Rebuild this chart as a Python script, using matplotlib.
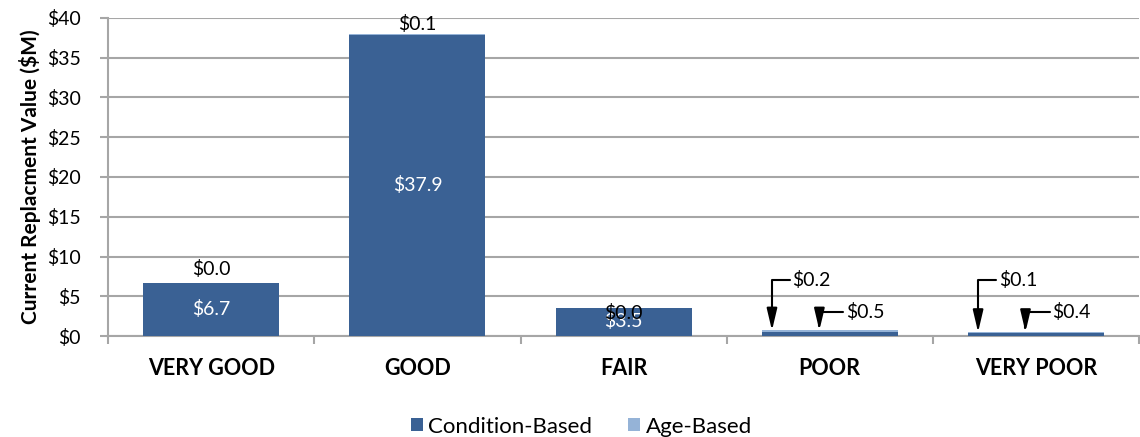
import matplotlib.pyplot as plt
import numpy as np

# Current replacement value by condition rating ($M)
categories = ['VERY GOOD', 'GOOD', 'FAIR', 'POOR', 'VERY POOR']
condition_based = [6.7, 37.9, 3.5, 0.5, 0.4]
age_based = [0.0, 0.1, 0.0, 0.2, 0.1]

dark_blue = '#3a6194'
light_blue = '#95b3d7'
grid_gray = '#a6a6a6'

plt.rcParams['font.family'] = ['Lato', 'DejaVu Sans']

fig = plt.figure(figsize=(11.4, 4.37), dpi=100)
ax = fig.add_axes([0.095, 0.231, 0.904, 0.728])

x = np.arange(len(categories))
w = 0.66
bars_c = ax.bar(x, condition_based, w, color=dark_blue, label='Condition-Based', zorder=3)
bars_a = ax.bar(x, age_based, w, bottom=condition_based, color=light_blue,
                label='Age-Based', zorder=3)

ax.set_xlim(-0.5, len(categories) - 0.5)
ax.set_ylim(0, 40)
ax.set_yticks(range(0, 41, 5))
ax.set_yticklabels(['$%d' % v for v in range(0, 41, 5)], fontsize=14)
ax.set_xticks(x)
ax.set_xticklabels(categories, fontsize=15.5, fontweight='bold')
ax.set_xticks(np.arange(-0.5, len(categories)), minor=True)
ax.tick_params(axis='x', which='major', length=0, pad=16)
ax.tick_params(axis='x', which='minor', length=6, color=grid_gray, width=1.5)
ax.tick_params(axis='y', length=6, color=grid_gray, width=1.5, pad=14)
ax.set_ylabel('Current Replacment Value ($M)', fontsize=15, fontweight='bold', labelpad=4)

ax.grid(axis='y', color=grid_gray, linewidth=1.5, zorder=0)
for s in ['top', 'right']:
    ax.spines[s].set_visible(False)
for s in ['left', 'bottom']:
    ax.spines[s].set_color(grid_gray)
    ax.spines[s].set_linewidth(1.5)

# labels inside the big bars
for i in range(3):
    ax.text(x[i], condition_based[i] / 2 + 0.1, '$%.1f' % condition_based[i],
            ha='center', va='center', color='white', fontsize=14, zorder=4)

# age-based labels for the first three bars
age_label_y = [8.4, 39.2, 2.9]
for i in range(3):
    ax.text(x[i], age_label_y[i], '$%.1f' % age_based[i],
            ha='center', va='center', color='black', fontsize=14, zorder=5)

# arrow callouts for the small bars
arrow_kw = dict(arrowstyle='-|>,head_width=0.26,head_length=1.1', mutation_scale=12,
                color='black', lw=1.5,
                connectionstyle='angle,angleA=0,angleB=90,rad=0', relpos=(0, 0.5),
                shrinkA=0, shrinkB=0)
for i in [3, 4]:
    top = condition_based[i] + age_based[i]
    ax.annotate('$%.1f' % age_based[i], xy=(x[i] - 0.28, top), xytext=(x[i] - 0.18, 7.0),
                ha='left', va='center', fontsize=14, arrowprops=arrow_kw, zorder=5)
    ax.annotate('$%.1f' % condition_based[i], xy=(x[i] - 0.05, top),
                xytext=(x[i] + 0.08, 3.0),
                ha='left', va='center', fontsize=14, arrowprops=arrow_kw, zorder=5)

fig.legend(handles=[bars_c, bars_a], loc='lower center', bbox_to_anchor=(0.51, -0.045),
           ncol=2, frameon=False, fontsize=16, handlelength=0.55, handleheight=0.55,
           handletextpad=0.25, columnspacing=1.6)

fig.savefig('out.png', dpi=100)
